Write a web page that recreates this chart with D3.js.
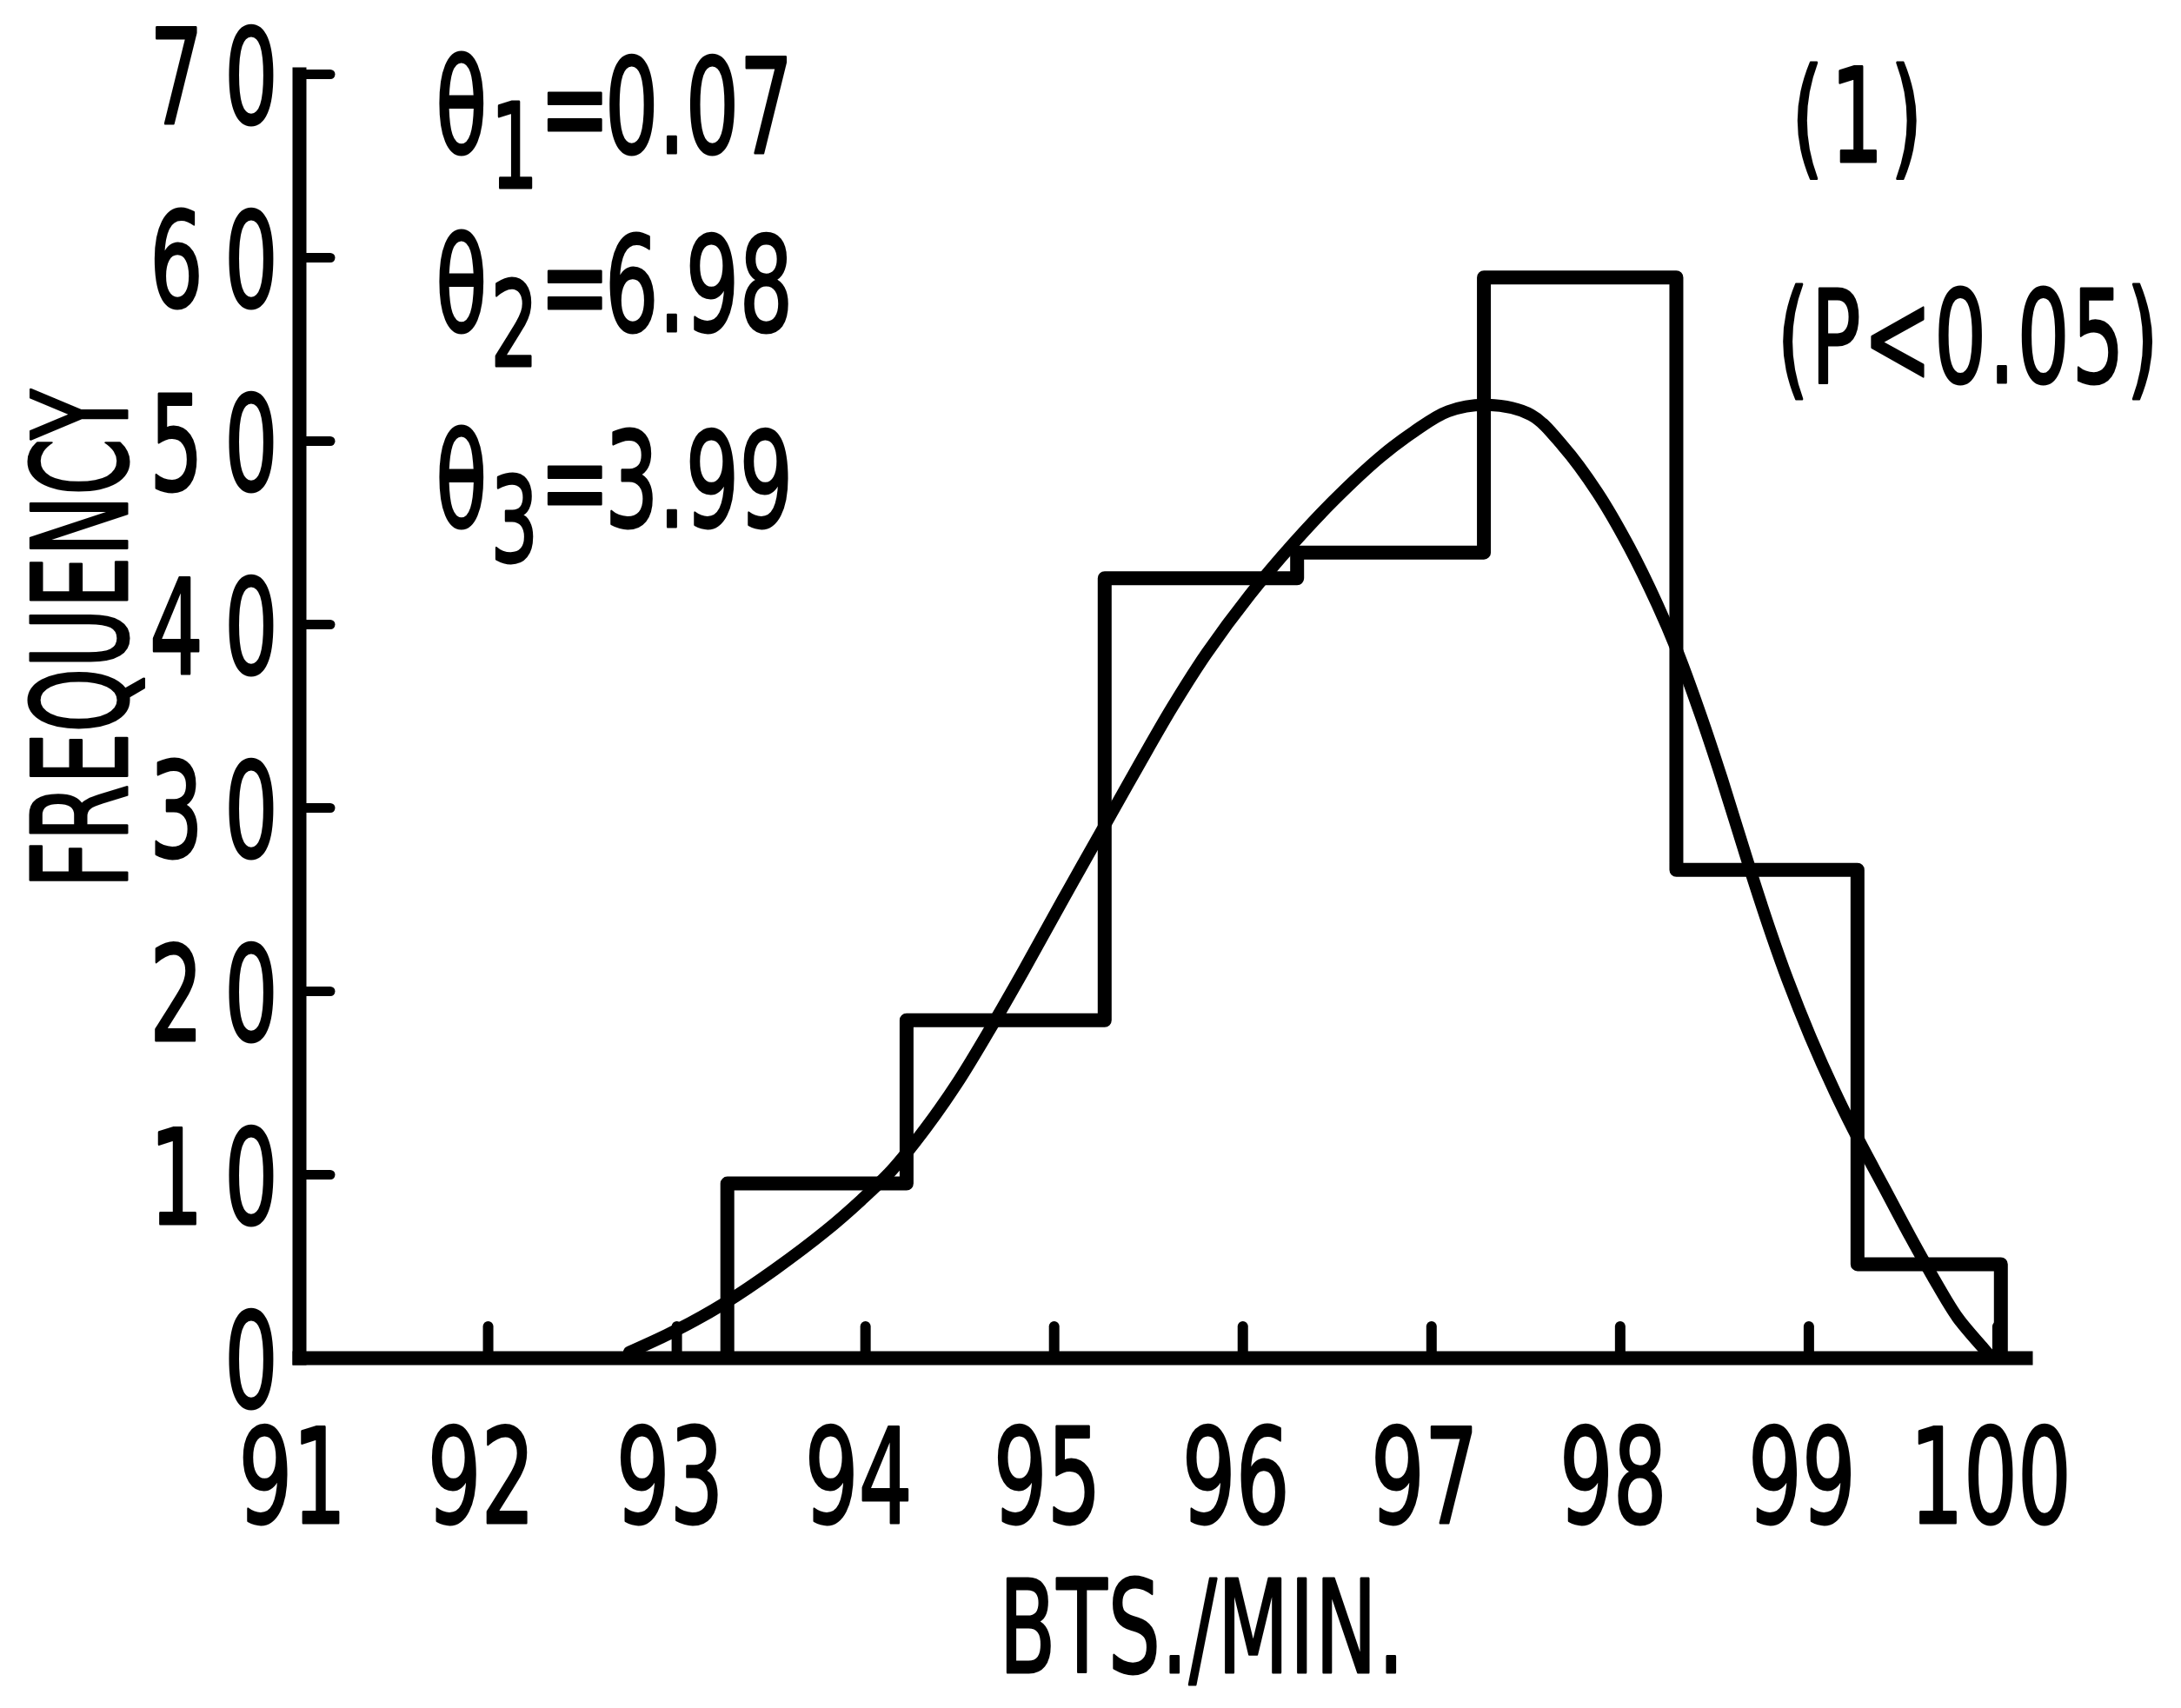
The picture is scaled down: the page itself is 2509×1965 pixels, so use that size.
<!DOCTYPE html>
<html>
<head>
<meta charset="utf-8">
<script src="https://cdn.jsdelivr.net/npm/d3@7/dist/d3.min.js"></script>
<style>
  html, body { margin: 0; padding: 0; background: #fff; }
  svg { display: block; }
</style>
</head>
<body>
<script>
// ---------------- DATA ----------------
const xTickValues = [91, 92, 93, 94, 95, 96, 97, 98, 99, 100];
const yTickValues = [0, 10, 20, 30, 40, 50, 60, 70];
// histogram class boundaries (bts/min) and frequencies
const binEdges = [93.27, 94.22, 95.27, 96.29, 97.28, 98.30, 99.26, 100.02];
const frequencies = [9.5, 18.4, 42.5, 43.9, 58.9, 26.6, 5.1];
// fitted curve (x, frequency)
const curveX = [92.75, 93.00, 93.26, 93.52, 93.79, 93.98, 94.14, 94.32, 94.49, 94.65, 94.84, 95.05, 95.28, 95.45, 95.63, 95.81, 96.04, 96.27, 96.48, 96.73, 96.91, 97.09, 97.30, 97.53, 97.70, 97.88, 98.05, 98.20, 98.30, 98.43, 98.54, 98.69, 98.80, 98.89, 99.01, 99.14, 99.26, 99.40, 99.54, 99.66, 99.79, 99.92, 99.97];
const curveY = [0.3, 1.5, 3.0, 4.8, 6.9, 8.6, 10.2, 12.5, 15.0, 17.7, 21.1, 25.0, 29.2, 32.3, 35.5, 38.4, 41.6, 44.4, 46.7, 49.1, 50.5, 51.6, 51.95, 51.4, 49.7, 47.2, 44.2, 41.05, 38.65, 35.0, 31.6, 26.65, 23.2, 20.6, 17.5, 14.5, 12.0, 9.3, 6.6, 4.4, 2.2, 0.6, 0.0];
const paramNames = ["θ", "θ", "θ"];
const paramSubs = ["1", "2", "3"];
const paramValues = ["0.07", "6.98", "3.99"];
const panelLabel = "(1)";
const sigLabel = "(P<0.05)";
const xTitle = "BTS./MIN.";
const yTitle = "FREQUENCY";

// ---------------- SETUP ----------------
const W = 2509, H = 1965;
const FONT = "'DejaVu Sans', 'Liberation Sans', sans-serif";
const SX = 0.64;     // horizontal condensing of the typewriter-like lettering
const FS = 152;
const TSW = 3;       // text outline thickening

const svg = d3.select("body").append("svg")
  .attr("width", W).attr("height", H)
  .attr("viewBox", `0 0 ${W} ${H}`);
svg.append("rect").attr("width", W).attr("height", H).attr("fill", "#fff");

const x = d3.scaleLinear().domain([91, 100.15]).range([344, 2330]);
const y = d3.scaleLinear().domain([0, 70]).range([1562, 85]);

function condensedText(parent, px, py, str, anchor, fs, ls, sx) {
  const g = parent.append("g")
    .attr("transform", `translate(${px},${py}) scale(${sx || SX},1)`);
  const t = g.append("text")
    .attr("text-anchor", anchor)
    .attr("font-family", FONT)
    .attr("font-size", fs || FS)
    .attr("letter-spacing", ls || 0)
    .attr("fill", "#000")
    .attr("stroke", "#000")
    .attr("stroke-width", TSW)
    .attr("stroke-linejoin", "round")
    .text(str);
  return t;
}

// ---------------- AXES ----------------
const axisStroke = 16;

const xAxis = d3.axisBottom(x)
  .tickValues(xTickValues)
  .tickSizeInner(-36)
  .tickSizeOuter(0)
  .tickFormat(d3.format("d"));

const gx = svg.append("g").attr("transform", `translate(0,${y(0)})`).call(xAxis);
gx.select(".domain").attr("stroke", "#000").attr("stroke-width", axisStroke).attr("stroke-linecap", "square");
gx.selectAll(".tick line").attr("stroke", "#000").attr("stroke-width", 12).attr("stroke-linecap", "round");
gx.selectAll(".tick text")
  .attr("font-family", FONT)
  .attr("font-size", FS)
  .attr("fill", "#000")
  .attr("stroke", "#000")
  .attr("stroke-width", TSW)
  .attr("stroke-linejoin", "round")
  .attr("text-anchor", "middle")
  .attr("dy", 0)
  .attr("y", 1752 - 1562)
  .attr("x", -8 / SX)
  .attr("transform", `scale(${SX},1)`);
gx.selectAll(".tick").filter(d => d === 91).select("line").remove();

const yLS = 38;
const yAxis = d3.axisLeft(y)
  .tickValues(yTickValues)
  .tickSizeInner(-36)
  .tickSizeOuter(0)
  .tickFormat(d3.format("d"));

const gy = svg.append("g").attr("transform", `translate(${x(91)},0)`).call(yAxis);
gy.select(".domain").attr("stroke", "#000").attr("stroke-width", axisStroke).attr("stroke-linecap", "square");
gy.selectAll(".tick line").attr("stroke", "#000").attr("stroke-width", 11).attr("stroke-linecap", "round");
gy.selectAll(".tick").filter(d => d === 0).select("line").remove();
gy.selectAll(".tick text")
  .attr("font-family", FONT)
  .attr("font-size", FS)
  .attr("fill", "#000")
  .attr("stroke", "#000")
  .attr("stroke-width", TSW)
  .attr("stroke-linejoin", "round")
  .attr("text-anchor", "end")
  .attr("letter-spacing", yLS)
  .attr("dy", "0.37em")
  .attr("x", (-24 + yLS * SX) / SX)
  .attr("transform", `scale(${SX},1)`);

// ---------------- HISTOGRAM (step outline) ----------------
const stepPts = [[binEdges[0], 0]];
frequencies.forEach((f, i) => {
  stepPts.push([binEdges[i], f]);
  stepPts.push([binEdges[i + 1], f]);
});
stepPts.push([binEdges[binEdges.length - 1], 0]);

svg.append("path")
  .datum(stepPts)
  .attr("fill", "none")
  .attr("stroke", "#000")
  .attr("stroke-width", 16)
  .attr("stroke-linejoin", "round")
  .attr("d", d3.line().x(d => x(d[0])).y(d => y(d[1])));

// ---------------- FITTED CURVE ----------------
const curvePts = curveX.map((v, i) => [v, curveY[i]]);
svg.append("path")
  .datum(curvePts)
  .attr("fill", "none")
  .attr("stroke", "#000")
  .attr("stroke-width", 14)
  .attr("stroke-linecap", "round")
  .attr("d", d3.line().x(d => x(d[0])).y(d => y(d[1])).curve(d3.curveCatmullRom.alpha(0.5)));

// ---------------- PARAMETER TEXT ----------------
const paramBaselines = [176, 381, 606];
paramNames.forEach((nm, i) => {
  const g = svg.append("g")
    .attr("transform", `translate(501,${paramBaselines[i]}) scale(${SX},1)`);
  const t = g.append("text")
    .attr("font-family", FONT)
    .attr("font-size", FS)
    .attr("fill", "#000")
    .attr("stroke", "#000")
    .attr("stroke-width", TSW)
    .attr("stroke-linejoin", "round");
  t.append("tspan").text(nm);
  t.append("tspan").attr("font-size", 135).attr("dy", 40).attr("dx", 6).text(paramSubs[i]);
  t.append("tspan").attr("dy", -40).attr("dx", 2).text("=");
  t.append("tspan").attr("dx", -10).text(paramValues[i]);
});

// ---------------- CORNER LABELS ----------------
condensedText(svg, 2140, 186, panelLabel, "middle", 150, 12);
condensedText(svg, 2044, 440, sigLabel, "start", 148, 4);

// ---------------- AXIS TITLES ----------------
condensedText(svg, 1383, 1924, xTitle, "middle", 148, 2);

const gyt = svg.append("g").attr("transform", `translate(146,735) rotate(-90) scale(0.62,1)`);
gyt.append("text")
  .attr("text-anchor", "middle")
  .attr("font-family", FONT)
  .attr("font-size", 152)
  .attr("fill", "#000")
  .attr("stroke", "#000")
  .attr("stroke-width", TSW)
  .attr("stroke-linejoin", "round")
  .text(yTitle);
</script>
</body>
</html>
